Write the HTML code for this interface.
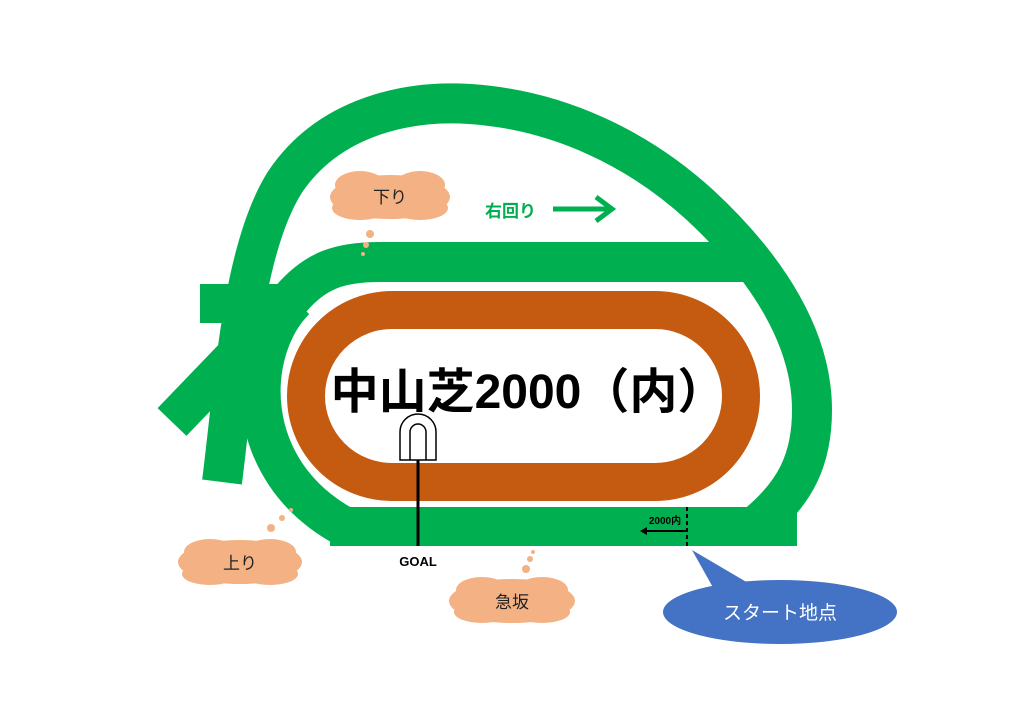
<!DOCTYPE html>
<html><head><meta charset="utf-8"><style>
html,body{margin:0;padding:0;background:#fff;}
svg{display:block}
</style></head><body>
<svg width="1024" height="709" viewBox="0 0 1024 709" xmlns="http://www.w3.org/2000/svg">
<g fill="none" stroke="#00b050" stroke-width="40">
<path d="M222 482 C235 380 242 250 285 182 C330 115 410 100 470 104 C560 110 640 150 700 205 C770 270 812 340 812 410 C812 460 795 492 760 522"/>
<path d="M290 300 C315 270 340 262 380 262 L745 262"/>
<path d="M295 300 C245 350 240 470 345 527"/>
<path d="M172 422 L270 320"/>
</g>
<path d="M690 243 L722 243 L740 262 L705 262 Z" fill="#00b050"/>
<rect x="330" y="507" width="467" height="39" fill="#00b050"/>
<rect x="200" y="284" width="95" height="39" fill="#00b050"/>
<rect x="282" y="286" width="484" height="220" rx="110" fill="#fff"/>
<rect x="306" y="310" width="435" height="172" rx="86" fill="#fff" stroke="#c55a11" stroke-width="38"/>
<text x="528" y="408" text-anchor="middle" font-family="Liberation Sans,'Noto Sans CJK JP',sans-serif" font-weight="bold" font-size="48">中山芝2000（内）</text>
<path d="M400 460 L400 432 A18 18 0 0 1 436 432 L436 460 Z M410 460 L410 432 A8 8 0 0 1 426 432 L426 460" fill="#fff" stroke="#000" stroke-width="1.5"/>
<line x1="418" y1="460" x2="418" y2="546" stroke="#000" stroke-width="3"/>
<text x="418" y="566" text-anchor="middle" font-family="Liberation Sans,sans-serif" font-weight="bold" font-size="13">GOAL</text>
<line x1="687" y1="507" x2="687" y2="546" stroke="#000" stroke-width="2" stroke-dasharray="4,3"/>
<path d="M686 531 L644 531" stroke="#000" stroke-width="2"/>
<path d="M640 531 L647 527 L647 535 Z" fill="#000"/>
<text x="665" y="524" text-anchor="middle" font-family="Liberation Sans,'Noto Sans CJK JP',sans-serif" font-weight="bold" font-size="10">2000内</text>
<text x="485" y="217" font-family="Liberation Sans,'Noto Sans CJK JP',sans-serif" font-weight="bold" font-size="17" fill="#00b050">右回り</text>
<path d="M553 209 L610 209 M596 197 L612 209 L596 221" stroke="#00b050" stroke-width="5" fill="none"/>
<g fill="#f4b183">
<ellipse cx="390" cy="197" rx="60" ry="22"/><ellipse cx="360" cy="185" rx="25" ry="14"/><ellipse cx="420" cy="185" rx="25" ry="14"/><ellipse cx="360" cy="208" rx="28" ry="12"/><ellipse cx="420" cy="208" rx="28" ry="12"/>
<circle cx="370" cy="234" r="4"/><circle cx="366" cy="245" r="3"/><circle cx="363" cy="254" r="2"/>
<ellipse cx="240" cy="562" rx="62" ry="22"/><ellipse cx="210" cy="552" rx="26" ry="13"/><ellipse cx="270" cy="552" rx="26" ry="13"/><ellipse cx="210" cy="574" rx="28" ry="11"/><ellipse cx="270" cy="574" rx="28" ry="11"/>
<circle cx="271" cy="528" r="4"/><circle cx="282" cy="518" r="3"/><circle cx="291" cy="510" r="2"/>
<ellipse cx="512" cy="601" rx="63" ry="22"/><ellipse cx="482" cy="590" rx="26" ry="13"/><ellipse cx="542" cy="590" rx="26" ry="13"/><ellipse cx="482" cy="612" rx="28" ry="11"/><ellipse cx="542" cy="612" rx="28" ry="11"/>
<circle cx="526" cy="569" r="4"/><circle cx="530" cy="559" r="3"/><circle cx="533" cy="552" r="2"/>
</g>
<g font-family="Liberation Sans,'Noto Sans CJK JP',sans-serif" font-size="17" fill="#222" text-anchor="middle">
<text x="390" y="203">下り</text><text x="240" y="569">上り</text><text x="512" y="608">急坂</text>
</g>
<path d="M692 550 L760 590 L720 600 Z" fill="#4472c4"/>
<ellipse cx="780" cy="612" rx="117" ry="32" fill="#4472c4"/>
<text x="780" y="619" text-anchor="middle" font-family="Liberation Sans,'Noto Sans CJK JP',sans-serif" font-size="19" fill="#fff">スタート地点</text>
</svg>
</body></html>
